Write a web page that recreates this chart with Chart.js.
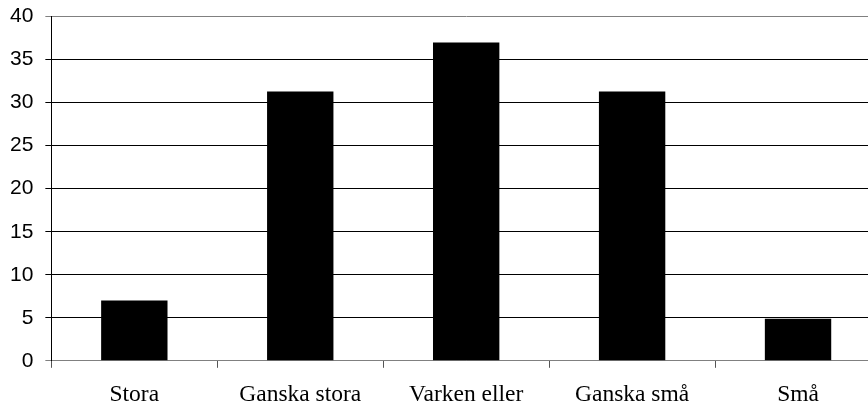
<!DOCTYPE html>
<html>
<head>
<meta charset="utf-8">
<script src="https://cdn.jsdelivr.net/npm/chart.js@4/dist/chart.umd.min.js"></script>
<style>
  html, body { margin: 0; padding: 0; background: #fff; overflow: hidden; }
  #wrap { width: 868px; height: 405px; overflow: hidden; }
  #chart { display: block; margin-left: -10px; margin-top: -8px; }
</style>
</head>
<body>
<div id="wrap"><canvas id="chart" width="900" height="430"></canvas></div>
<script>
const categories = ['Stora', 'Ganska stora', 'Varken eller', 'Ganska små', 'Små'];
const values = [7, 31.3, 37, 31.3, 4.9];
const yTicks = [0, 5, 10, 15, 20, 25, 30, 35, 40];

const ctx = document.getElementById('chart');
new Chart(ctx, {
  type: 'bar',
  data: {
    labels: categories,
    datasets: [
      {
        data: values,
        backgroundColor: '#000',
        borderWidth: 0,
        categoryPercentage: 1,
        barPercentage: 0.4,
      },
    ],
  },
  options: {
    responsive: false,
    animation: false,
    layout: { padding: { left: 8, right: 9, top: 5, bottom: 0 } },
    plugins: { legend: { display: false }, tooltip: { enabled: false } },
    scales: {
      x: {
        offset: true,
        grid: {
          offset: true,
          drawOnChartArea: false,
          tickLength: 7,
          color: '#555',
        },
        border: { color: '#808080', width: 1 },
        ticks: {
          color: '#000',
          padding: 13,
          font: { family: '"Liberation Serif", serif', size: 23.5 },
          maxRotation: 0,
        },
      },
      y: {
        min: 0,
        max: 40,
        afterBuildTicks: (axis) => {
          axis.ticks = yTicks.map((v) => ({ value: v }));
        },
        grid: {
          color: (c) => (c.tick && (c.tick.value === 40 || c.tick.value === 0) ? '#808080' : '#000'),
          tickLength: 6,
          lineWidth: 1,
        },
        border: { color: '#000', width: 1 },
        ticks: {
          color: '#000',
          padding: 12,
          font: { family: '"Liberation Sans", Arial, sans-serif', size: 21 },
        },
      },
    },
  },
});
</script>
</body>
</html>
